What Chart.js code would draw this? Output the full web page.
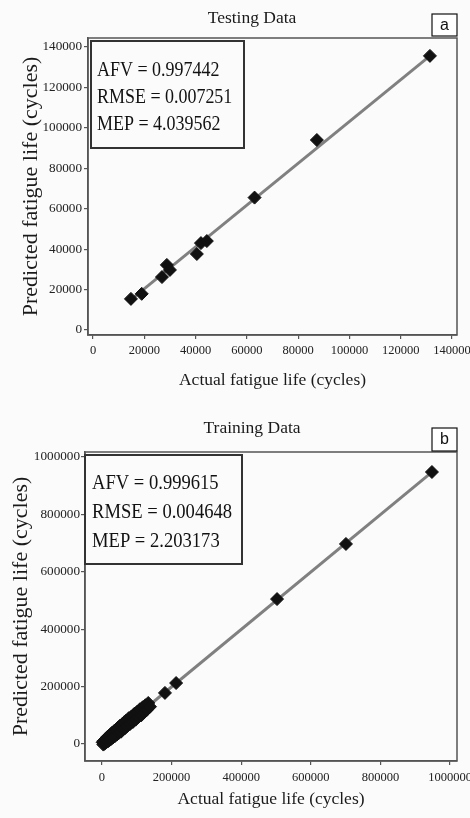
<!DOCTYPE html>
<html><head><meta charset="utf-8">
<script src="https://cdn.jsdelivr.net/npm/chart.js@4"></script>
<style>
html,body{margin:0;padding:0;background:#fbfbfb;overflow:hidden;width:470px;height:818px;position:relative;}
.wrap{position:absolute;left:0;width:504px;}
#w1{top:0;height:400px;}
#w2{top:400px;height:418px;}
canvas{display:block;}
</style></head><body>
<div class="wrap" id="w1"><canvas id="c1" width="504" height="400"></canvas></div>
<div class="wrap" id="w2"><canvas id="c2" width="504" height="418"></canvas></div>
<script>
// ---- Testing data (panel a)
const testActual    = [14800, 19000, 26900, 28800, 30000, 40500, 42100, 44400, 63000, 87300, 131400];
const testPredicted = [15400, 17900, 26200, 32200, 29700, 37600, 43000, 44000, 65500, 94000, 135600];
const testFitX = [14800, 131400];
const testFitY = [15000, 135600];
const testTicksX = [0, 20000, 40000, 60000, 80000, 100000, 120000, 140000];
const testTicksY = [0, 20000, 40000, 60000, 80000, 100000, 120000, 140000];
const testStats = ['AFV = 0.997442', 'RMSE = 0.007251', 'MEP = 4.039562'];

// ---- Training data (panel b)
const trainActual = [2000, 4000, 5000, 7000, 9000, 10000, 12000, 14000, 16000, 18000, 20000, 22000, 25000, 27000, 30000, 32000, 35000, 37000, 40000, 43000, 46000, 49000, 52000, 55000, 58000, 61000, 64000, 67000, 70000, 73000, 77000, 81000, 85000, 89000, 93000, 97000, 101000, 105000, 109000, 113000, 117000, 121000, 125000, 129000, 133000, 138000, 181000, 213000, 503000, 701000, 948000];
const trainPredicted = [6000, -2000, 11000, 1000, 16000, 4000, 19000, 8000, 25000, 10000, 28000, 14000, 34000, 18000, 40000, 23000, 45000, 27000, 50000, 33000, 57000, 39000, 64000, 43000, 69000, 51000, 76000, 56000, 82000, 63000, 90000, 70000, 96000, 77000, 105000, 85000, 112000, 94000, 121000, 100000, 128000, 110000, 135000, 119000, 143000, 130000, 178000, 212500, 505000, 697000, 947700];
const trainFitX = [2000, 948000];
const trainFitY = [1000, 947000];
const trainTicksX = [0, 200000, 400000, 600000, 800000, 1000000];
const trainTicksY = [0, 200000, 400000, 600000, 800000, 1000000];
const trainStats = ['AFV = 0.999615', 'RMSE = 0.004648', 'MEP = 2.203173'];

const SERIF = "'Liberation Serif', 'Times New Roman', serif";
const SANS = "'Liberation Sans', Arial, sans-serif";

const deco = {
  id: 'deco',
  afterDraw(chart, args, o) {
    const ctx = chart.ctx, a = chart.chartArea;
    ctx.save();
    ctx.strokeStyle = '#555';
    ctx.lineWidth = 1.5;
    ctx.strokeRect(a.left, a.top, a.right - a.left, a.bottom - a.top);
    const b = o.box;
    ctx.fillStyle = '#fbfbfb';
    ctx.fillRect(b.x, b.y, b.w, b.h);
    ctx.strokeStyle = '#333';
    ctx.lineWidth = 2;
    ctx.strokeRect(b.x, b.y, b.w, b.h);
    ctx.fillStyle = '#111';
    ctx.font = o.statsSize + 'px ' + SERIF;
    ctx.textBaseline = 'alphabetic';
    ctx.textAlign = 'left';
    o.lines.forEach((t, i) => {
      ctx.save();
      ctx.translate(o.textX, o.baselines[i]);
      ctx.scale(o.squeeze, 1);
      ctx.fillText(t, 0, 0);
      ctx.restore();
    });
    const l = o.letter;
    ctx.fillStyle = '#fff';
    ctx.fillRect(l.x, l.y, l.w, l.h);
    ctx.strokeStyle = '#111';
    ctx.lineWidth = 1.2;
    ctx.strokeRect(l.x, l.y, l.w, l.h);
    ctx.fillStyle = '#111';
    ctx.font = '16px ' + SANS;
    ctx.textAlign = 'center';
    ctx.textBaseline = 'middle';
    ctx.fillText(l.text, l.x + l.w / 2, l.y + l.h / 2 + 0.5);
    ctx.restore();
  }
};

function makeChart(id, cfg) {
  const pts = cfg.ax.map((x, i) => ({x: x, y: cfg.ay[i]}));
  const fit = cfg.fx.map((x, i) => ({x: x, y: cfg.fy[i]}));
  return new Chart(document.getElementById(id), {
    type: 'scatter',
    data: {datasets: [
      {data: pts, xAxisID: 'x', yAxisID: 'y', pointStyle: 'rectRot', pointRadius: cfg.pr, pointHoverRadius: cfg.pr,
       backgroundColor: '#111', borderColor: '#111', borderWidth: 1},
      {data: fit, xAxisID: 'x', yAxisID: 'y', showLine: true, borderColor: '#808080', borderWidth: 3, pointRadius: 0, fill: false}
    ]},
    options: {
      responsive: false, animation: false, devicePixelRatio: 1,
      layout: {padding: 0},
      plugins: {
        legend: {display: false}, tooltip: {enabled: false},
        title: {display: true, text: cfg.title, color: '#1a1a1a',
                font: {family: SERIF, size: 17.5, weight: 'normal'}, padding: cfg.titlePad},
        deco: cfg.deco
      },
      scales: {
        x: {type: 'linear', position: 'bottom', min: cfg.xmin, max: cfg.xmax,
            afterBuildTicks: s => { s.ticks = cfg.tx.map(v => ({value: v})); },
            afterFit: s => { s.height = cfg.xh; },
            grid: {display: true, drawOnChartArea: false, drawTicks: true, tickLength: 4, color: '#555', lineWidth: 1.2},
            border: {display: true, color: '#555', width: 1.5},
            ticks: {font: {family: SERIF, size: 12.5}, color: '#222', padding: cfg.xpad, maxRotation: 0, autoSkip: false, callback: v => String(v)},
            title: {display: true, text: 'Actual fatigue life (cycles)', color: '#1a1a1a',
                    font: {family: SERIF, size: 17.5}, padding: {top: 0, bottom: cfg.xtPad}}},
        y: {type: 'linear', position: 'left', min: cfg.ymin, max: cfg.ymax,
            afterBuildTicks: s => { s.ticks = cfg.ty.map(v => ({value: v})); },
            afterFit: s => { s.width = cfg.yw; },
            grid: {display: true, drawOnChartArea: false, drawTicks: true, tickLength: 4, color: '#555', lineWidth: 1.2},
            border: {display: true, color: '#555', width: 1.5},
            ticks: {font: {family: SERIF, size: 13.2}, color: '#222', padding: cfg.ypad, autoSkip: false, callback: v => String(v)},
            title: {display: true, text: 'Predicted fatigue life (cycles)', color: '#1a1a1a',
                    font: {family: SERIF, size: 22}, padding: {top: cfg.ytPad, bottom: 0}}},
        spacer: {type: 'linear', axis: 'y', position: 'right', min: 0, max: 1,
            afterFit: s => { s.width = 47; },
            grid: {display: false, drawTicks: false}, border: {display: false},
            ticks: {display: false}, title: {display: false}}
      }
    },
    plugins: [deco]
  });
}

makeChart('c1', {
  ax: testActual, ay: testPredicted, fx: testFitX, fy: testFitY, tx: testTicksX, ty: testTicksY,
  title: 'Testing Data', titlePad: {top: 7.5, bottom: 9.5}, pr: 6.5,
  xmin: -1950, xmax: 141950, ymin: -2470, ymax: 144450,
  xh: 65, yw: 88, xpad: 4, ypad: 2, xtPad: 9.5, ytPad: 18,
  deco: {box: {x: 91, y: 41, w: 153, h: 107}, statsSize: 21, squeeze: 0.855, textX: 97, baselines: [76, 103, 130],
         lines: testStats, letter: {x: 432, y: 14, w: 25, h: 22, text: 'a'}}
});

makeChart('c2', {
  ax: trainActual, ay: trainPredicted, fx: trainFitX, fy: trainFitY, tx: trainTicksX, ty: trainTicksY,
  title: 'Training Data', titlePad: {top: 17.5, bottom: 13.5}, pr: 6.5,
  xmin: -48700, xmax: 1020000, ymin: -59200, ymax: 1017400,
  xh: 57, yw: 85, xpad: 5, ypad: 1, xtPad: 8.5, ytPad: 8,
  deco: {box: {x: 85, y: 55, w: 157, h: 109}, statsSize: 21, squeeze: 0.885, textX: 92, baselines: [89, 118, 147],
         lines: trainStats, letter: {x: 432, y: 28, w: 25, h: 23, text: 'b'}}
});
</script>
</body></html>
